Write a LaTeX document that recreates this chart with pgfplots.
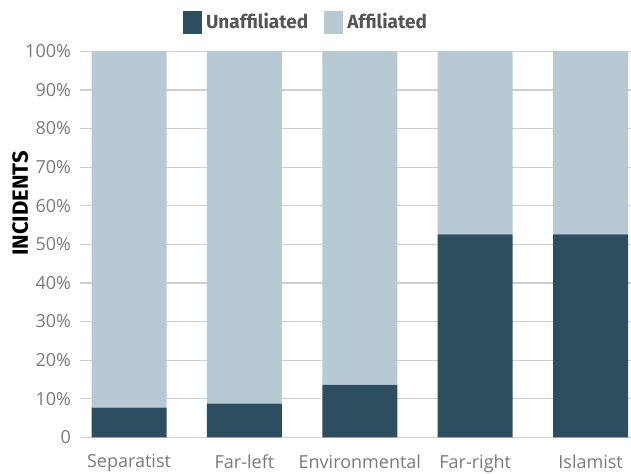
\documentclass[border=0pt]{standalone}
\usepackage{pgfplots}
\pgfplotsset{compat=1.18}
\usepackage{fontspec}
\setmainfont{Open Sans}
\newfontfamily\legfont{Fira Sans}
\definecolor{dark}{HTML}{2D4E5E}
\definecolor{light}{HTML}{B7CAD3}
\definecolor{tickgray}{HTML}{7A7A7A}
\definecolor{gridgray}{HTML}{CFCFCF}
\definecolor{leggray}{HTML}{555555}
\begin{document}
\begin{tikzpicture}
\useasboundingbox (-40pt,-17.85pt) rectangle (275.5pt,218.65pt);
\begin{axis}[
  scale only axis,
  width=275.5pt, height=193pt,
  clip=false,
  ybar stacked,
  bar width=0.65,
  xmin=-0.425, xmax=4.35,
  ymin=0, ymax=100,
  xtick={0,1,2,3,4},
  xticklabels={Separatist,Far-left,Environmental,Far-right,Islamist},
  ytick={0,10,...,100},
  yticklabels={0,10\%,20\%,30\%,40\%,50\%,60\%,70\%,80\%,90\%,100\%},
  axis line style={draw=none},
  major tick length=0pt,
  ymajorgrids,
  grid style={gridgray, line width=0.6pt},
  tick label style={font=\fontsize{9}{11}\selectfont, text=tickgray},
  yticklabel style={xshift=-1pt},
  xticklabel style={yshift=-5pt},
  legend style={at={(rel axis cs:0.412,1.074)}, anchor=center, draw=none,
    legend columns=2, font=\legfont\fontsize{9.5}{11}\selectfont\bfseries,
    text=leggray, /tikz/every even column/.append style={column sep=6pt}},
  legend image code/.code={\fill[#1] (0pt,-5.75pt) rectangle (9.5pt,5.75pt);},
]
\addplot[fill=dark, draw=none] coordinates {(0,7.7) (1,8.7) (2,13.6) (3,52.6) (4,52.6)};
\addplot[fill=light, draw=none] coordinates {(0,92.3) (1,91.3) (2,86.4) (3,47.4) (4,47.4)};
\legend{Unaffiliated,Affiliated}
\node[rotate=90, font=\legfont\fontsize{11}{13}\selectfont\bfseries, text=black] at (rel axis cs:-0.1085,0.606) {INCIDENTS};
\end{axis}
\end{tikzpicture}
\end{document}
